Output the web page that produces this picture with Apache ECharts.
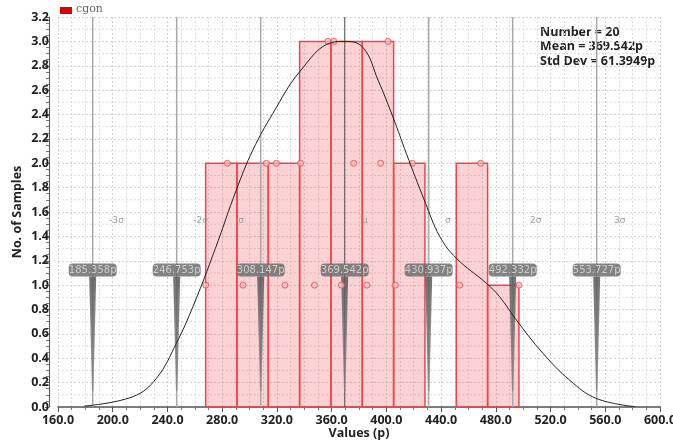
<!DOCTYPE html>
<html>
<head>
<meta charset="utf-8">
<script src="https://cdn.jsdelivr.net/npm/echarts@6/dist/echarts.min.js"></script>
<style>
html,body{margin:0;padding:0;background:#fff;}
#chart{width:673px;height:441px;}
</style>
</head>
<body>
<div id="chart"></div>
<script>
// ---- data ----
const binEdges = [267.9, 290.8, 313.7, 336.6, 359.5, 382.4, 405.3, 428.2, 451.1, 474.0, 496.9];
const binCounts = [2, 2, 2, 3, 3, 3, 2, 0, 2, 1];
const sampleValues = [267.9, 283.8, 295.2, 312.3, 319.6, 325.9, 337.3, 347.5, 357.3, 361.7,
                      367.1, 376.1, 385.8, 395.8, 401.2, 406.6, 419.0, 453.6, 468.9, 496.9];
const sampleLevels = [1, 2, 1, 2, 2, 1, 2, 1, 3, 3,
                      1, 2, 1, 2, 3, 1, 2, 1, 2, 1];
const curveX = [179.4, 214.8, 231.9, 246.5, 258.6, 275.0, 290.3, 302.5, 317.1, 336.6, 359.8, 369.5,
                382.9, 394.0, 404.8, 414.6, 428.0, 439.0, 451.2, 473.1, 482.8, 495.0, 514.5, 534.0, 553.5, 581.5];
const curveY = [0.008, 0.085, 0.235, 0.523, 0.823, 1.30, 1.78, 2.11, 2.41, 2.75, 2.99, 3.0,
                2.95, 2.68, 2.38, 2.08, 1.69, 1.40, 1.22, 1.015, 0.905, 0.714, 0.44, 0.22, 0.07, 0.003];
const sigmaValues = [185.358, 246.753, 308.147, 369.542, 430.937, 492.332, 553.727];
const sigmaTags = ['185.358p', '246.753p', '308.147p', '369.542p', '430.937p', '492.332p', '553.727p'];
const sigmaNames = ['-3σ', '-2σ', '-σ', 'μ', 'σ', '2σ', '3σ'];
const sigmaNameX = [202.9, 264.2, 292.7, 384.2, 444.9, 509.2, 570.5];
const statsLines = ['Number = 20', 'Mean = 369.542p', 'Std Dev = 61.3949p'];
const legendName = 'cgon';
const xMin = 160, xMax = 600, xStep = 40;
const yMin = 0, yMax = 3.2, yStep = 0.2;

// ---- build ----
const chart = echarts.init(document.getElementById('chart'), null, {renderer: 'canvas'});
const barData = binCounts.map((c, i) => [binEdges[i], binEdges[i + 1], c]);
const sampleData = sampleValues.map((v, i) => [v, sampleLevels[i]]);
const curveData = curveX.map((x, i) => [x, curveY[i]]);
const sigmaData = sigmaValues.map((v, i) => [v, i]);
const nameData = sigmaNameX.map((x, i) => [x, 1.53, sigmaNames[i]]);

const boldFont = 'Open Sans';

const option = {
  animation: false,
  grid: {left: 58, right: 13, top: 17, bottom: 34, containLabel: false, outerBoundsMode: 'none'},
  xAxis: {
    type: 'value', min: xMin, max: xMax, interval: xStep,
    name: 'Values (p)', nameLocation: 'middle', nameGap: 20, nameMoveOverlap: false,
    nameTextStyle: {fontFamily: boldFont, fontWeight: 'bold', fontSize: 12.5, color: '#222'},
    axisLine: {show: true, onZero: false, lineStyle: {color: '#555', width: 1.5}},
    axisTick: {show: true, length: 5, lineStyle: {color: '#555'}},
    minorTick: {show: true, splitNumber: 4, length: 3, lineStyle: {color: '#777'}},
    axisLabel: {fontFamily: boldFont, fontWeight: 'bold', fontSize: 12.5, color: '#222', margin: 7,
      formatter: v => v.toFixed(1), hideOverlap: false},
    splitLine: {show: true, lineStyle: {color: '#d0d0d0', type: [2, 2], width: 1}},
    minorSplitLine: {show: true, lineStyle: {color: '#dcdcdc', type: [2, 2], width: 1}}
  },
  yAxis: {
    type: 'value', min: yMin, max: yMax, interval: yStep, offset: 9,
    name: 'No. of Samples', nameLocation: 'middle', nameGap: 25, nameRotate: 90, nameMoveOverlap: false,
    nameTextStyle: {fontFamily: boldFont, fontWeight: 'bold', fontSize: 12.5, color: '#222'},
    axisLine: {show: true, lineStyle: {color: '#555', width: 1}},
    axisTick: {show: true, length: 4, lineStyle: {color: '#555'}},
    minorTick: {show: true, splitNumber: 4, length: 3, lineStyle: {color: '#777'}},
    axisLabel: {fontFamily: boldFont, fontWeight: 'bold', fontSize: 12.5, color: '#222', margin: 0,
      formatter: v => v.toFixed(1), hideOverlap: false},
    splitLine: {show: true, lineStyle: {color: '#d0d0d0', type: [2, 2], width: 1}},
    minorSplitLine: {show: false}
  },
  series: [
    { // minor horizontal grid lines (every half step)
      type: 'custom', silent: true, z: 1,
      data: [0],
      renderItem: (params, api) => {
        const children = [];
        for (let k = 0; k < 16; k++) {
          const v = yMin + yStep * k + yStep / 2;
          const p0 = api.coord([xMin, v]), p1 = api.coord([xMax, v]);
          children.push({type: 'line', shape: {x1: p0[0], y1: p0[1], x2: p1[0], y2: p1[1]},
            style: {stroke: '#dcdcdc', lineWidth: 1, lineDash: [2, 2]}});
        }
        return {type: 'group', children};
      }
    },
    { // histogram bars
      type: 'custom', z: 2, silent: true,
      data: barData,
      renderItem: (params, api) => {
        const c = api.value(2);
        if (!c) return null;
        const p0 = api.coord([api.value(0), c]);
        const p1 = api.coord([api.value(1), 0]);
        return {type: 'rect',
          shape: {x: p0[0], y: p0[1], width: p1[0] - p0[0], height: p1[1] - p0[1]},
          style: {fill: 'rgba(235,90,95,0.27)', stroke: '#e8474c', lineWidth: 1.5}};
      }
    },
    { // sigma lines + tags
      type: 'custom', z: 4, silent: true,
      data: sigmaData,
      renderItem: (params, api) => {
        const v = api.value(0), i = api.value(1);
        const top = api.coord([v, yMax]), bot = api.coord([v, yMin]);
        const isMean = i === 3;
        const x = top[0];
        const tagC = api.coord([v, 1.12]);
        const wTop = api.coord([v, 1.07])[1];
        const wBot = api.coord([v, 0.13])[1];
        return {type: 'group', children: [
          {type: 'line', shape: {x1: x, y1: top[1], x2: x, y2: bot[1]},
            style: {stroke: isMean ? '#555' : '#a8a8a8', lineWidth: isMean ? 1 : 1.5}},
          {type: 'polygon', shape: {points: [[x - 3.5, wTop], [x + 3.5, wTop], [x + 0.7, wBot], [x - 0.7, wBot]]},
            style: {fill: new echarts.graphic.LinearGradient(0, 0, 0, 1, [
              {offset: 0, color: 'rgba(90,90,90,0.85)'}, {offset: 1, color: 'rgba(130,130,130,0.75)'}])}},
          {type: 'rect', shape: {x: x - 24, y: tagC[1] - 7, width: 48, height: 13, r: 4},
            style: {fill: 'rgba(110,110,110,0.85)'}},
          {type: 'text', x: x, y: tagC[1] - 0.5,
            style: {text: sigmaTags[i], fill: '#cccccc', fontSize: 10, fontFamily: 'DejaVu Sans',
              align: 'center', verticalAlign: 'middle'}}
        ]};
      }
    },
    { // sigma names
      type: 'custom', z: 3, silent: true,
      data: nameData,
      renderItem: (params, api) => {
        const p = api.coord([api.value(0), api.value(1)]);
        return {type: 'text', x: p[0], y: p[1],
          style: {text: sigmaNames[params.dataIndex], fill: '#9a9a9a', fontSize: 9,
            fontFamily: 'DejaVu Sans', align: 'center', verticalAlign: 'middle'}};
      }
    },
    { // samples
      type: 'scatter', z: 5, silent: true,
      data: sampleData, symbol: 'circle', symbolSize: 6,
      itemStyle: {color: 'rgba(250,190,190,0.9)', borderColor: '#e8474c', borderWidth: 1}
    },
    { // fitted curve
      type: 'line', z: 6, silent: true,
      data: curveData, smooth: 0.4, showSymbol: false, symbol: 'none',
      lineStyle: {color: '#222', width: 1}
    }
  ],
  graphic: [
    {type: 'rect', left: 60, top: 7, shape: {width: 12, height: 7}, style: {fill: '#e00000'}},
    {type: 'text', left: 76, top: 4, style: {text: legendName, fill: '#666', fontSize: 11,
      fontFamily: 'DejaVu Serif'}},
    {type: 'text', left: 540, top: 25, style: {text: statsLines.join('\n'), fill: '#222',
      fontSize: 12.5, fontWeight: 'bold', fontFamily: boldFont, lineHeight: 14.5}}
  ]
};
chart.setOption(option);
</script>
</body>
</html>
